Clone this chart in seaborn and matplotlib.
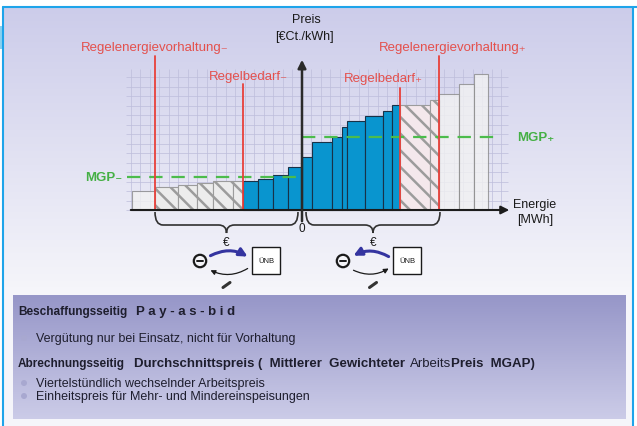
import numpy as np
import pandas as pd
import seaborn as sns
import matplotlib.pyplot as plt
from matplotlib.patches import Rectangle, Circle, FancyArrowPatch, PathPatch
from matplotlib.path import Path

# Merit order of the bids: bar edges on the energy axis and offered price
bid_edges = [-17.0, -14.7, -12.4, -10.5, -8.9, -6.9, -5.9, -4.4, -2.9, -1.4, 0.0,
             1.0, 3.0, 4.0, 4.5, 6.3, 8.1, 9.0, 9.8, 12.8, 13.7, 15.7, 17.2, 18.6]
bid_price = [1.9, 2.3, 2.5, 2.7, 2.9, 2.9, 2.9, 3.1, 3.5, 4.3, 5.3,
             6.8, 7.3, 8.3, 8.9, 9.4, 9.9, 10.5, 10.5, 11.0, 11.6, 12.6, 13.6]
bid_state = (["frei"] + ["vorhaltung"] * 5 + ["abruf"] * 12
             + ["vorhaltung_pos"] * 2 + ["frei"] * 3)

mgp_neg = 3.3
mgp_pos = 7.3

regel_x = [-14.7, -5.9, 9.8, 13.7]
regel_top = [15.4, 12.6, 12.2, 15.4]
regel_labels = ["Regelenergievorhaltung₋", "Regelbedarf₋", "Regelbedarf₊", "Regelenergievorhaltung₊"]
regel_label_x = [-14.7, -5.4, 8.1, 15.1]
regel_label_y = [16.3, 13.4, 13.2, 16.3]

df = pd.DataFrame({
    "left": bid_edges[:-1],
    "right": bid_edges[1:],
    "price": bid_price,
    "state": bid_state,
})
df["mid"] = (df["left"] + df["right"]) / 2

sns.set_theme(style="white")
plt.rcParams["font.family"] = ["Liberation Sans", "DejaVu Sans"]
plt.rcParams["hatch.linewidth"] = 1.8

W, H = 637, 427
fig = plt.figure(figsize=(W / 100, H / 100), dpi=100)
ax = fig.add_axes([0, 0, 1, 1])
XMIN, XMAX = -30.2, (W - 302) / 10
YMIN, YMAX = (211 - H) / 10, 21.1


def P(px, py):
    # pixel position of the reference -> data coords
    return (px - 302) / 10, (211 - py) / 10


# background: lavender gradient, lower info panel
bg = np.ones((H, W, 3))
top_c = np.array([204, 204, 234]) / 255
bot_c = np.array([245, 245, 250]) / 255
for r in range(8, H):
    t = min(1, (r - 8) / 280)
    bg[r, 4:633] = top_c * (1 - t) + bot_c * t
for r in range(296, 420):
    t = (r - 296) / 124
    bg[r, 13:626] = np.array([150, 150, 200]) / 255 * (1 - t) + np.array([204, 204, 232]) / 255 * t
bg[27:50, 0:4] = np.array([136, 208, 240]) / 255
ax.imshow(bg, extent=[XMIN, XMAX, YMIN, YMAX], aspect="auto", zorder=0)

# frame
ax.plot([P(3.5, 0)[0]] * 2, [P(0, 8)[1], YMIN], color="#1ea4ea", lw=1.5, zorder=1)
ax.plot([P(633, 0)[0]] * 2, [P(0, 8)[1], YMIN], color="#1ea4ea", lw=1.5, zorder=1)
ax.plot([P(3.5, 0)[0], XMAX], [P(0, 8)[1]] * 2, color="#1ea4ea", lw=1.5, zorder=1)

# grid
gx = np.arange(-18, 22) * 0.95
gx = gx[(gx > -17.6) & (gx < 20.6)]
gy = np.arange(0, 15) * 0.95
ax.vlines(gx, 0, 14.1, color="#bdbddb", lw=0.5, zorder=1)
ax.hlines(gy, -17.6, 20.6, color="#bdbddb", lw=0.5, zorder=1)

# bars
styles = {
    "frei": dict(color="#f2f2f2", edgecolor="#8a8a8a", alpha=0.8, hatch=None),
    "vorhaltung": dict(color="#ececec", edgecolor="#9c9c9c", alpha=1, hatch="\\\\"),
    "abruf": dict(color="#0995cf", edgecolor="#183248", alpha=1, hatch=None),
    "vorhaltung_pos": dict(color="#f4e8ec", edgecolor="#9c9c9c", alpha=1, hatch="\\\\"),
}
for state, st in styles.items():
    sub = df[df["state"] == state]
    # contiguous blocks so histplot bins fit exactly
    blocks = (sub.index.to_series().diff() != 1).cumsum()
    for _, blk in sub.groupby(blocks):
        edges = list(blk["left"]) + [blk["right"].iloc[-1]]
        n0 = len(ax.patches)
        sns.histplot(x=blk["mid"], weights=blk["price"], bins=edges, ax=ax,
                     color=st["color"], edgecolor=st["edgecolor"], linewidth=0.8,
                     alpha=st["alpha"], zorder=2)
        for p in ax.patches[n0:]:
            p.set_facecolor(st["color"])
            p.set_alpha(st["alpha"])
            if st["hatch"]:
                p.set_hatch(st["hatch"])

# MGP lines
ax.plot([-17.5, 0], [mgp_neg, mgp_neg], color="#4cbc4c", lw=1.6, dashes=(6, 4), zorder=4)
ax.plot([0, 19.8], [mgp_pos, mgp_pos], color="#4cbc4c", lw=1.6, dashes=(6, 4), zorder=4)
ax.text(-18.0, mgp_neg, "MGP₋", color="#45b045", fontsize=9.5, fontweight="bold",
        ha="right", va="center", zorder=5)
ax.text(21.5, mgp_pos, "MGP₊", color="#45b045", fontsize=9.5, fontweight="bold",
        ha="left", va="center", zorder=5)

# red control lines + labels
for x, top, lab, lx, ly in zip(regel_x, regel_top, regel_labels, regel_label_x, regel_label_y):
    ax.plot([x, x], [0, top], color="#e8403a", lw=1.3, zorder=5)
    ax.text(lx, ly, lab, color="#e4504c", fontsize=9.5, ha="center", va="center", zorder=5)

# axes arrows
ax.annotate("", xy=(21.0, 0), xytext=(-17.4, 0),
            arrowprops=dict(arrowstyle="-|>", color="#1c1c1c", lw=1.5, mutation_scale=12), zorder=6)
ax.annotate("", xy=(0, 15.3), xytext=(0, -1.4),
            arrowprops=dict(arrowstyle="-|>", color="#2a2a2a", lw=1.8, mutation_scale=12), zorder=6)
ax.text(0.4, 19.1, "Preis", fontsize=9, ha="center", va="center", color="#1a1a1a")
ax.text(0.2, 17.4, "[€Ct./kWh]", fontsize=9, ha="center", va="center", color="#1a1a1a")
ax.text(21.1, 0.6, "Energie", fontsize=9, ha="left", va="center", color="#1a1a1a")
ax.text(21.5, -0.9, "[MWh]", fontsize=9, ha="left", va="center", color="#1a1a1a")
ax.text(0, -1.8, "0", fontsize=8.5, ha="center", va="center", color="#1a1a1a")


def brace(x1, x2, y, top, tip):
    xm = (x1 + x2) / 2
    r = 0.8
    verts = [(x1, top), (x1, y), (x1 + r, y), (xm - r, y), (xm, y), (xm, tip),
             (xm, y), (xm + r, y), (x2 - r, y), (x2, y), (x2, top)]
    codes = [Path.MOVETO, Path.CURVE3, Path.CURVE3, Path.LINETO, Path.CURVE3, Path.CURVE3,
             Path.CURVE3, Path.CURVE3, Path.LINETO, Path.CURVE3, Path.CURVE3]
    ax.add_patch(PathPatch(Path(verts, codes), fill=False, edgecolor="#303030", lw=1.2, zorder=6))
    ax.text(xm, -3.2, "€", fontsize=8.5, ha="center", va="center", color="#1a1a1a")
    ax.plot([xm - 0.35, xm + 0.35], [-7.75, -7.25], color="#333333", lw=2.2,
            solid_capstyle="round", zorder=6)


brace(regel_x[0], -0.4, -1.5, -0.2, -2.3)
brace(0.4, regel_x[3] + 0.1, -1.5, -0.2, -2.3)


def unb_icon(cx, bx, left_to_right):
    ax.add_patch(Circle((cx, -5.1), 0.62, facecolor="#f4f4f8", edgecolor="#1a1a1a", lw=1.6, zorder=6))
    ax.plot([cx - 0.3, cx + 0.3], [-5.1, -5.1], color="#1a1a1a", lw=1.4, zorder=7)
    ax.add_patch(Rectangle((bx, -6.4), 2.8, 2.7, facecolor="white", edgecolor="#1a1a1a", lw=1.0, zorder=6))
    ax.text(bx + 1.4, -5.05, "ÜNB", fontsize=5.5, ha="center", va="center", color="#1a1a1a", zorder=7)
    a, b = (cx + 0.8, bx - 0.2)
    if left_to_right:
        blue = FancyArrowPatch((a, -4.7), (b, -4.8), connectionstyle="arc3,rad=-0.3",
                               arrowstyle="-|>", mutation_scale=12, color="#3434a0", lw=2.2, zorder=7)
        black = FancyArrowPatch((b, -5.7), (a, -5.9), connectionstyle="arc3,rad=-0.3",
                                arrowstyle="-|>", mutation_scale=7, color="#1a1a1a", lw=0.9, zorder=7)
    else:
        blue = FancyArrowPatch((b, -4.8), (a, -4.7), connectionstyle="arc3,rad=0.3",
                               arrowstyle="-|>", mutation_scale=12, color="#3434a0", lw=2.2, zorder=7)
        black = FancyArrowPatch((a, -5.9), (b, -5.7), connectionstyle="arc3,rad=0.3",
                                arrowstyle="-|>", mutation_scale=7, color="#1a1a1a", lw=0.9, zorder=7)
    ax.add_patch(blue)
    ax.add_patch(black)


unb_icon(-10.2, -5.0, True)
unb_icon(4.1, 9.1, False)

# info panel text
fig.canvas.draw()
renderer = fig.canvas.get_renderer()


def put(px, py, s, bold=False, size=9):
    x, y = P(px, py)
    t = ax.text(x, y, s, fontsize=size, fontweight="bold" if bold else "normal",
                ha="left", va="center", color="#1e1e2e", zorder=8)
    bb = t.get_window_extent(renderer=renderer)
    return bb.x1


e = put(18, 312, "Beschaffungsseitig", bold=True, size=8.5)
put(e + 9, 312, "P a y - a s - b i d", bold=True, size=9.5)
put(36, 339, "Vergütung nur bei Einsatz, nicht für Vorhaltung")
e = put(18, 364, "Abrechnungsseitig", bold=True, size=8.5)
e = put(e + 9, 364, "Durchschnittspreis (  Mittlerer  Gewichteter", bold=True, size=9.5)
e = put(e + 5, 364, "Arbeits", size=9.5)
put(e, 364, "Preis  MGAP)", bold=True, size=9.5)
put(36, 384, "Viertelstündlich wechselnder Arbeitspreis")
put(36, 397, "Einheitspreis für Mehr- und Mindereinspeisungen")
for py in (339, 384, 397):
    ax.add_patch(Circle(P(24, py), 0.3, facecolor="#a8a8d0", edgecolor="none", zorder=8))

ax.set_xlim(XMIN, XMAX)
ax.set_ylim(YMIN, YMAX)
ax.axis("off")
fig.savefig("out.png", dpi=100)
